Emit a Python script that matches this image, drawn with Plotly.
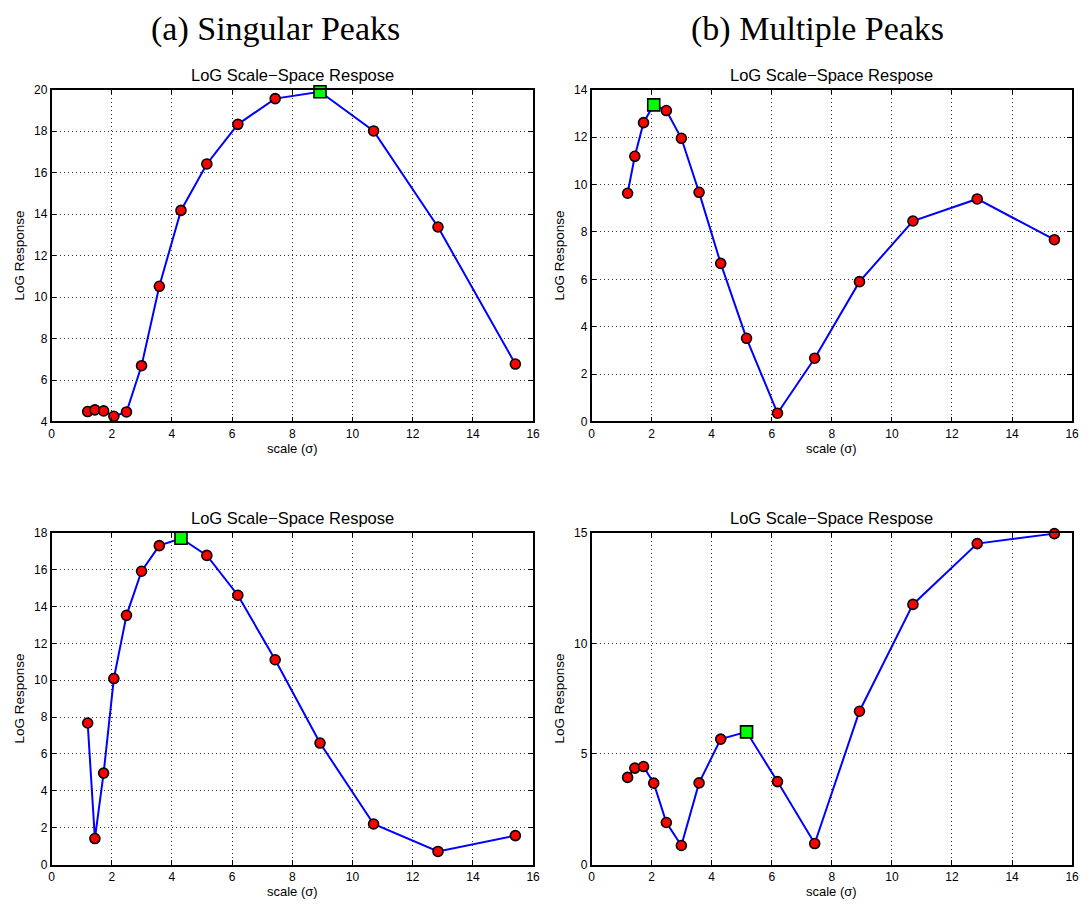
import plotly.graph_objects as go

# scale levels (sigma) shared by every panel
sigma = [1.2, 1.44, 1.73, 2.07, 2.49, 2.99, 3.58, 4.30, 5.16, 6.19, 7.43, 8.92, 10.70, 12.84, 15.41]

# LoG responses per panel
singular_top = [4.48, 4.56, 4.51, 4.25, 4.46, 6.69, 10.52, 14.18, 16.42, 18.33, 19.57, 19.90, 18.01, 13.38, 6.77]
multiple_top = [9.63, 11.19, 12.61, 13.36, 13.12, 11.95, 9.67, 6.67, 3.51, 0.35, 2.67, 5.90, 8.46, 9.39, 7.67]
singular_bottom = [7.68, 1.41, 4.96, 10.09, 13.52, 15.91, 17.30, 17.70, 16.77, 14.61, 11.11, 6.59, 2.20, 0.71, 1.57]
multiple_bottom = [3.94, 4.36, 4.43, 3.68, 1.90, 0.86, 3.69, 5.67, 6.00, 3.75, 0.95, 6.93, 11.76, 14.51, 14.96]

# index of the selected scale (drawn as a square) in each panel
peak_index = [11, 3, 7, 8]

# y-axis ranges / tick steps per panel
y_ranges = [[4, 20], [0, 14], [0, 18], [0, 15]]
y_dticks = [2, 2, 2, 5]

panel_title = "LoG Scale\u2212Space Respose"
x_label = "scale (\u03c3)"
y_label = "LoG Response"
column_headers = ["(a) Singular Peaks", "(b) Multiple Peaks"]

W, H = 1092, 906
# plot boxes in pixels: (left, right, top, bottom)
boxes = [(49, 535, 84, 421), (594, 1079, 84, 421),
         (49, 535, 534, 871), (594, 1079, 534, 871)]

panels = [singular_top, multiple_top, singular_bottom, multiple_bottom]

fig = go.Figure()
layout = dict(width=W, height=H, margin=dict(l=0, r=0, t=0, b=0),
              paper_bgcolor="white", plot_bgcolor="white", showlegend=False,
              font=dict(family="Liberation Sans, Arial, sans-serif", color="black"))
annotations = []

for i, (vals, pk) in enumerate(zip(panels, peak_index)):
    n = "" if i == 0 else str(i + 1)
    xa, ya = "x" + n, "y" + n
    left, right, top, bottom = boxes[i]

    fig.add_trace(go.Scatter(x=sigma, y=vals, mode="lines",
                             line=dict(color="#0000ff", width=2),
                             xaxis=xa, yaxis=ya, hoverinfo="skip", cliponaxis=False))
    xs = [s for j, s in enumerate(sigma) if j != pk]
    ys = [v for j, v in enumerate(vals) if j != pk]
    fig.add_trace(go.Scatter(x=xs, y=ys, mode="markers", cliponaxis=False,
                             marker=dict(symbol="circle", size=10, color="#ff0000",
                                         line=dict(color="black", width=1.6)),
                             xaxis=xa, yaxis=ya))
    fig.add_trace(go.Scatter(x=[sigma[pk]], y=[vals[pk]], mode="markers", cliponaxis=False,
                             marker=dict(symbol="square", size=12, color="#00ff00",
                                         line=dict(color="black", width=1.6)),
                             xaxis=xa, yaxis=ya))

    common = dict(showline=True, linecolor="black", linewidth=1.5, mirror="allticks",
                  ticks="inside", ticklen=5, tickwidth=1, tickcolor="black",
                  showgrid=True, gridcolor="#333333", gridwidth=1, griddash="1px,3px",
                  zeroline=False, tickfont=dict(size=12, color="black"),
                  fixedrange=True)
    layout["xaxis" + n] = dict(domain=[left / W, right / W], anchor=ya,
                               range=[0, 16], dtick=2, tick0=0, **common)
    layout["yaxis" + n] = dict(domain=[1 - bottom / H, 1 - top / H], anchor=xa,
                               range=y_ranges[i], dtick=y_dticks[i], tick0=0, **common)

    cx = (left + right) / 2
    annotations.append(dict(text=panel_title, x=cx / W, y=1 - (top - 15) / H,
                            xref="paper", yref="paper", showarrow=False,
                            xanchor="center", yanchor="middle", font=dict(size=16.5)))
    annotations.append(dict(text=x_label, x=cx / W, y=1 - (bottom + 27) / H,
                            xref="paper", yref="paper", showarrow=False,
                            xanchor="center", yanchor="middle", font=dict(size=13)))
    annotations.append(dict(text=y_label, x=(left - 32) / W, y=1 - (top + bottom) / 2 / H,
                            xref="paper", yref="paper", showarrow=False, textangle=-90,
                            xanchor="center", yanchor="middle", font=dict(size=13.5)))

for k, hdr in enumerate(column_headers):
    cx = [275, 822][k]
    annotations.append(dict(text=hdr, x=cx / W, y=1 - 22 / H, xref="paper", yref="paper",
                            showarrow=False, xanchor="center", yanchor="middle",
                            font=dict(size=34, family="Liberation Serif, serif")))

layout["annotations"] = annotations
fig.update_layout(**layout)
fig.write_html("out.html")
